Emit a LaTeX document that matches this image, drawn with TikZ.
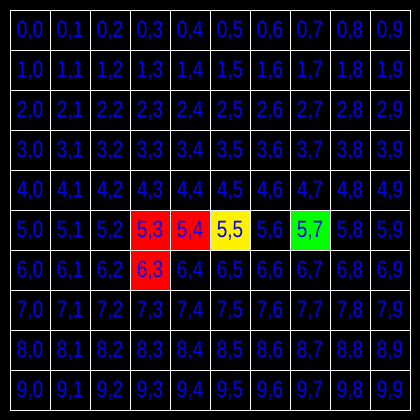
\documentclass[tikz,border=0pt]{standalone}
\usepackage{fontspec}
\setmainfont{Liberation Sans}
\begin{document}
\begin{tikzpicture}[
        cell/.style={draw=white, line width=0.7pt, minimum size=1cm, inner sep=0pt},
        lbl/.style={text=blue, font=\fontsize{16.8}{18}\selectfont, xscale=0.8, transform shape, inner sep=0pt, anchor=base}]
                        \fill[black] (-0.25, -0.25) rectangle (10.25, 10.25);

                        % coloured cells
                        \foreach \r/\c/\col in {5/3/red, 5/4/red, 5/5/yellow, 5/7/green, 6/3/red}
                            \node[cell, fill=\col] (f\r\c) at (\c + 0.5, 9.5 - \r) {};

                        % grid and labels
                        \foreach \r in {0,...,9}
                            \foreach \c in {0,...,9}
                            {
                                \node[cell] (c\r\c) at (\c + 0.5, 9.5 - \r) {};
                                \node[lbl] (t\r\c) at ([yshift=0.325cm]c\r\c.south) {\r,\c};
                            }
                    \end{tikzpicture}
\end{document}
